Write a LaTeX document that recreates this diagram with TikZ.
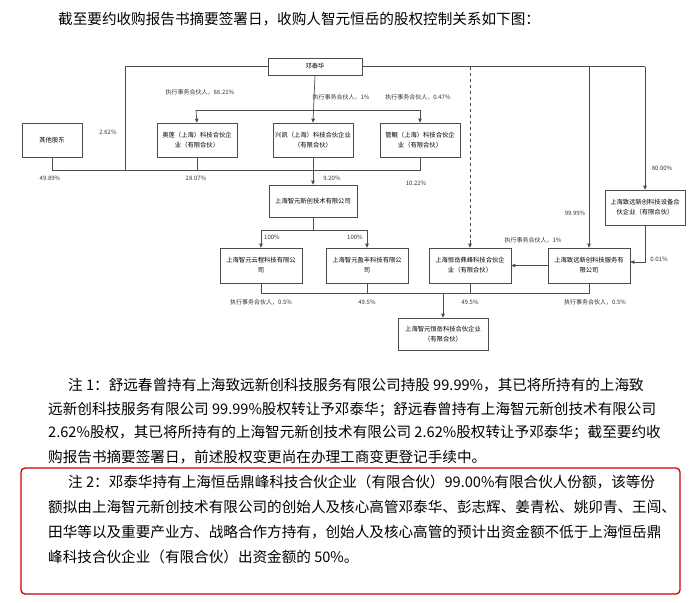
\documentclass[tikz,border=0pt]{standalone}
\usepackage{fontspec}
\setmainfont{Noto Sans CJK SC}
\usetikzlibrary{arrows.meta}
\begin{document}
\begin{tikzpicture}[x=1pt,y=-1pt,
  bx/.style={draw=black!70,line width=0.6pt,fill=white,align=center,font=\fontsize{6.3}{10}\selectfont,inner sep=1pt},
  ln/.style={draw=black!70,line width=0.7pt},
  ar/.style={ln,-{Triangle[length=4pt,width=3.5pt]}},
  lb/.style={font=\fontsize{6}{7}\selectfont,text=black!80,inner sep=0pt},
  tx/.style={font=\fontsize{14.6}{16}\selectfont,anchor=west,inner sep=0pt}]
\useasboundingbox[fill=white] (0,0) rectangle (700,602);
\node[tx] (title) at (58,19) {截至要约收购报告书摘要签署日，收购人智元恒岳的股权控制关系如下图：};
% boxes
\node[bx,minimum width=94,minimum height=17] (dth) at (315,66.5) {邓泰华};
\node[bx,minimum width=60,minimum height=34] (qt) at (52,140) {其他股东};
\node[bx,minimum width=80,minimum height=34] (al) at (197,140) {奥莲（上海）科技合伙企\\业（有限合伙）};
\node[bx,minimum width=80,minimum height=34] (xk) at (313,140) {兴凯（上海）科技合伙企业\\（有限合伙）};
\node[bx,minimum width=80,minimum height=34] (gk) at (420,140) {管鲲（上海）科技合伙企\\业（有限合伙）};
\node[bx,minimum width=88,minimum height=32] (zy) at (313,201) {上海智元新创技术有限公司};
\node[bx,minimum width=80,minimum height=35] (sb) at (645,207.5) {上海致远新创科技设备合\\伙企业（有限合伙）};
\node[bx,minimum width=82,minimum height=35] (yc) at (261,265.5) {上海智元云程科技有限公\\司};
\node[bx,minimum width=82,minimum height=35] (yf) at (367,265.5) {上海智元盈丰科技有限公\\司};
\node[bx,minimum width=82,minimum height=35] (hy) at (470,265.5) {上海恒岳鼎峰科技合伙企\\业（有限合伙）};
\node[bx,minimum width=82,minimum height=35] (fw) at (589,265.5) {上海致远新创科技服务有\\限公司};
\node[bx,minimum width=90,minimum height=32] (zh) at (443,334) {上海智元恒岳科技合伙企业\\（有限合伙）};
% coordinates
\coordinate (b1) at (52,170); \coordinate (b2) at (420,170);
\coordinate (t1) at (196,110); \coordinate (t2) at (420,110);
\coordinate (dl) at (125,66.5); \coordinate (dr) at (645,66.5);
% lines top
\draw[ln] (dth.west) -- (dl) -- (125,170);
\draw[ln] (qt.south) -- (b1) -- (b2) -- (gk.south);
\draw[ln] (al.south) -- (al.south |- b1);
\draw[ar] (dth.south) -- (xk.north);
\draw[ln] (t1) -- (t2);
\draw[ar] (t1) -- (al.north);
\draw[ar] (t2) -- (gk.north);
\draw[ar] (xk.south) -- (zy.north);
\draw[ln] (dth.east) -- (dr);
\draw[ln,dashed] (470,66.5) -- (470,244);
\draw[ar] (470,240) -- (hy.north);
\draw[ar] (589,66.5) -- (fw.north);
\draw[ar] (dr) -- (sb.north);
\draw[ar] (sb.south) -- (645,262) -- (fw.east |- 0,262);
\draw[ar] (fw.west) -- (hy.east);
% middle
\draw[ln] (zy.south) -- (313,230);
\draw[ln] (261,230) -- (367,230);
\draw[ar] (261,230) -- (yc.north);
\draw[ar] (367,230) -- (yf.north);
% bottom bus
\draw[ln] (yc.south) -- (261,293) -- (589,293) -- (fw.south);
\draw[ln] (yf.south) -- (367,293);
\draw[ln] (hy.south) -- (470,293);
\draw[ar] (443,293) -- (zh.north);
% labels
\node[lb] (l1) at (200,92) {执行事务合伙人，86.21\%};
\node[lb] (l2) at (341,97) {执行事务合伙人，1\%};
\node[lb] (l3) at (418,97) {执行事务合伙人，0.47\%};
\node[lb] (l4) at (108,132) {2.62\%};
\node[lb] (l5) at (50,178) {49.89\%};
\node[lb] (l6) at (196,178) {28.07\%};
\node[lb] (l7) at (332,178) {9.20\%};
\node[lb] (l8) at (416,183) {10.22\%};
\node[lb] (l9) at (662,168) {80.00\%};
\node[lb] (l10) at (575,213) {99.99\%};
\node[lb] (l11) at (533,240) {执行事务合伙人，1\%};
\node[lb] (l12) at (659,259) {0.01\%};
\node[lb] (l13) at (272,237) {100\%};
\node[lb] (l14) at (355,237) {100\%};
\node[lb] (l15) at (261,302) {执行事务合伙人，0.5\%};
\node[lb] (l16) at (367,302) {49.5\%};
\node[lb] (l17) at (470,302) {49.5\%};
\node[lb] (l18) at (595,302) {执行事务合伙人，0.5\%};
% notes
\node[tx] (n1) at (68,385) {注 1：舒远春曾持有上海致远新创科技服务有限公司持股 99.99\%，其已将所持有的上海致};
\node[tx] (n2) at (48,409) {远新创科技服务有限公司 99.99\%股权转让予邓泰华；舒远春曾持有上海智元新创技术有限公司};
\node[tx] (n3) at (48,433) {2.62\%股权，其已将所持有的上海智元新创技术有限公司 2.62\%股权转让予邓泰华；截至要约收};
\node[tx] (n4) at (48,457) {购报告书摘要签署日，前述股权变更尚在办理工商变更登记手续中。};
\draw[draw=red!80!black,line width=1.3pt,rounded corners=4pt] (21,468) rectangle (680,594);
\node[tx] (m1) at (68,482) {注 2：邓泰华持有上海恒岳鼎峰科技合伙企业（有限合伙）99.00\%有限合伙人份额，该等份};
\node[tx] (m2) at (48,507) {额拟由上海智元新创技术有限公司的创始人及核心高管邓泰华、彭志辉、姜青松、姚卯青、王闯、};
\node[tx] (m3) at (48,532) {田华等以及重要产业方、战略合作方持有，创始人及核心高管的预计出资金额不低于上海恒岳鼎};
\node[tx] (m4) at (48,557) {峰科技合伙企业（有限合伙）出资金额的 50\%。};
\end{tikzpicture}
\end{document}
